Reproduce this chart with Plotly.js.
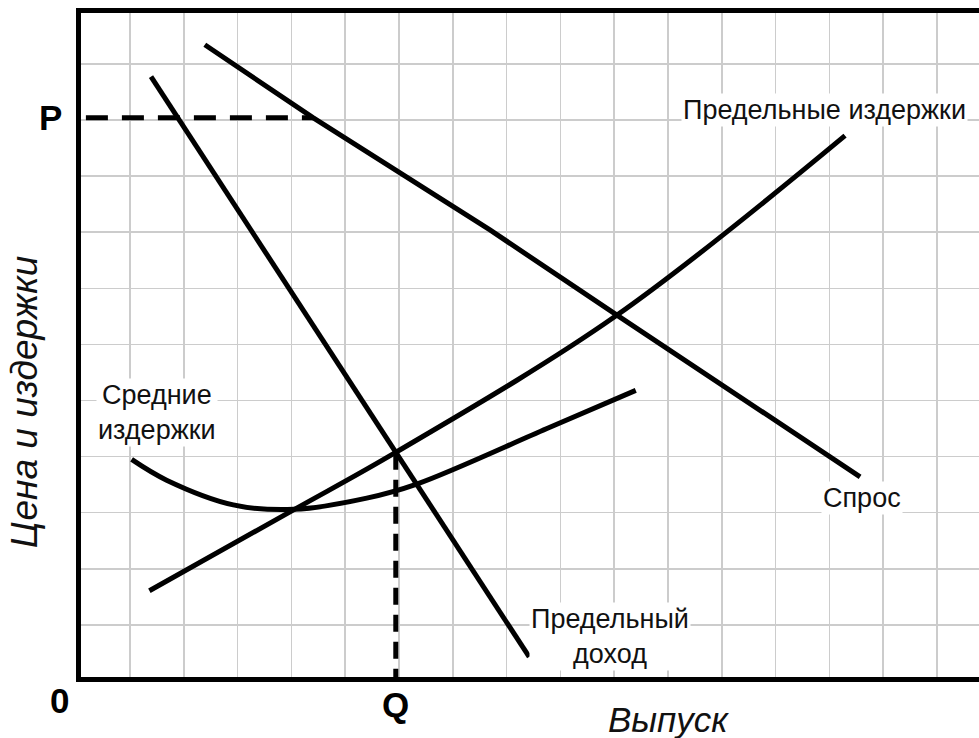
<!DOCTYPE html>
<html>
<head>
<meta charset="utf-8">
<script src="https://cdn.plot.ly/plotly-3.0.1.min.js"></script>
<style>
  html, body { margin: 0; padding: 0; background: #fff; overflow: hidden; }
  #plot { width: 979px; height: 738px; }
</style>
</head>
<body>
<div id="plot"></div>
<script>
// monopoly diagram: demand, marginal revenue, marginal cost, average cost
// units are grid cells (x = output, y = price / cost)

// demand (Спрос)
let demandX = [2.39, 4.40, 7.69, 10.05, 14.57]
let demandY = [11.34, 10.04, 8.04, 6.52, 3.64]

// marginal revenue (Предельный доход)
let mrX = [1.39, 8.42]
let mrY = [10.77, 0.43]

// marginal cost (Предельные издержки)
let mcX = [1.36, 4.04, 5.93, 10.02, 14.29]
let mcY = [1.61, 3.05, 4.07, 6.50, 9.72]

// average cost (Средние издержки)
let acX = [1.03, 1.68, 2.92, 4.04, 5.40, 6.33, 8.75, 10.40]
let acY = [3.95, 3.58, 3.14, 3.06, 3.26, 3.51, 4.50, 5.18]

// price P and quantity Q
let pLevel = 10.04
let pLineX = [0.18, 4.40]
let qLevel = 5.94
let qLineY = [4.07, 0.05]

let solid = { color: 'black', width: 5 }
let curved = { color: 'black', width: 5, shape: 'spline', smoothing: 1 }

let traces = [
    { x: demandX, y: demandY, mode: 'lines', line: solid },
    { x: mrX, y: mrY, mode: 'lines', line: solid },
    { x: mcX, y: mcY, mode: 'lines', line: curved },
    { x: acX, y: acY, mode: 'lines', line: curved },
    // dashed guides
    { x: pLineX, y: [pLevel, pLevel], mode: 'lines', line: { color: 'black', width: 5, dash: '22px,14px' } },
    { x: [qLevel, qLevel], y: qLineY, mode: 'lines', line: { color: 'black', width: 5, dash: '17px,10px' } }
]

let labelFont = { family: 'Arial, "Liberation Sans", sans-serif', size: 27, color: '#111' }
let bigFont = { family: 'Arial, "Liberation Sans", sans-serif', size: 35, color: 'black', weight: 'bold' }
let titleFont = { family: 'Arial, "Liberation Sans", sans-serif', size: 35, color: '#111', style: 'italic' }

let annotations = [
    { text: 'Предельные издержки', x: 11.24, y: 10.18, xanchor: 'left', yanchor: 'middle', font: labelFont, bgcolor: 'white', showarrow: false },
    { text: 'Средние<br>издержки', x: 1.50, y: 4.79, xanchor: 'center', yanchor: 'middle', font: labelFont, bgcolor: 'white', showarrow: false },
    { text: 'Спрос', x: 14.61, y: 3.27, xanchor: 'center', yanchor: 'middle', font: labelFont, bgcolor: 'white', showarrow: false },
    { text: 'Предельный<br>доход', x: 9.92, y: 0.79, xanchor: 'center', yanchor: 'middle', font: labelFont, bgcolor: 'white', showarrow: false },
    // P, 0, Q marks
    { text: 'P', xref: 'paper', x: 0, xshift: -17, xanchor: 'right', y: pLevel, yanchor: 'middle', font: bigFont, showarrow: false },
    { text: '0', xref: 'paper', x: 0, xshift: -22, xanchor: 'center', yref: 'paper', y: 0, yshift: -23, yanchor: 'middle', font: bigFont, showarrow: false },
    { text: 'Q', x: qLevel, xanchor: 'center', yref: 'paper', y: 0, yshift: -27, yanchor: 'middle', font: bigFont, showarrow: false },
    // axis titles
    { text: 'Выпуск', x: 11.0, xanchor: 'center', yref: 'paper', y: 0, yshift: -42, yanchor: 'middle', font: titleFont, showarrow: false },
    { text: 'Цена и издержки', xref: 'paper', x: 0, xshift: -57, xanchor: 'center', y: 4.97, yanchor: 'middle', textangle: -90,
      font: Object.assign({}, titleFont, { size: 37 }), showarrow: false }
]

let axisCommon = {
    dtick: 1,
    tick0: 0,
    showgrid: true,
    gridcolor: '#cccccc',
    gridwidth: 1.5,
    zeroline: false,
    showticklabels: false,
    ticks: '',
    showline: true,
    linecolor: 'black',
    linewidth: 5,
    fixedrange: true
}

let layout = {
    width: 979,
    height: 738,
    showlegend: false,
    paper_bgcolor: 'white',
    plot_bgcolor: 'white',
    margin: { l: 81, r: 0, t: 13, b: 61, pad: 0 },
    xaxis: Object.assign({ range: [0.089, 16.78], mirror: true }, axisCommon),
    yaxis: Object.assign({ range: [0.073, 11.905], mirror: false }, axisCommon),
    annotations: annotations
}

Plotly.newPlot('plot', traces, layout, { staticPlot: true, displayModeBar: false })
</script>
</body>
</html>
